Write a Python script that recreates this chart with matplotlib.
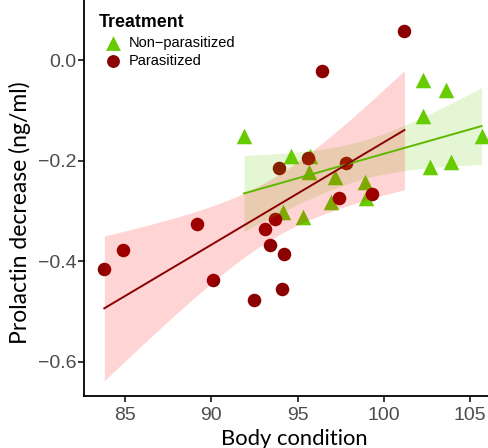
"""
Prolactin decrease vs body condition, by treatment, with linear fits and 95% CI.
"""

import matplotlib
matplotlib.use('Agg')
import matplotlib.pyplot as plt
import numpy as np

GREEN = '#66cc00'
GLINE = '#5fb800'
DRED = '#8b0000'

# Data -------------------------------------------------------------------------

para_x = [83.8, 84.9, 89.2, 90.1, 92.5, 93.1, 93.4, 93.7, 93.9, 94.2, 94.1,
          95.6, 96.4, 97.4, 97.8, 99.3, 101.2]
para_y = [-0.415, -0.377, -0.325, -0.437, -0.476, -0.336, -0.367, -0.315, -0.215,
          -0.386, -0.456, -0.194, -0.021, -0.274, -0.204, -0.266, 0.059]

nonp_x = [91.9, 94.6, 95.7, 95.65, 94.15, 95.3, 97.17, 96.94, 98.9, 98.96,
          102.25, 103.58, 102.28, 105.67, 102.67, 103.9]
nonp_y = [-0.151, -0.191, -0.191, -0.222, -0.302, -0.312, -0.232, -0.282, -0.242,
          -0.273, -0.040, -0.060, -0.111, -0.151, -0.212, -0.203]

xticks = [85, 90, 95, 100, 105]
yticks = [-0.6, -0.4, -0.2, 0.0]

# t quantiles (0.975) for n-2 degrees of freedom
t_para = 2.131
t_nonp = 2.145


def fit_ci(x, y, tq):
	x = np.asarray(x)
	y = np.asarray(y)
	n = len(x)
	b, a = np.polyfit(x, y, 1)
	xs = np.linspace(x.min(), x.max(), 80)
	ys = a + b * xs
	res = y - (a + b * x)
	s = np.sqrt(np.sum(res ** 2) / (n - 2))
	se = s * np.sqrt(1.0 / n + (xs - x.mean()) ** 2 / np.sum((x - x.mean()) ** 2))
	return xs, ys, ys - tq * se, ys + tq * se


# Plot -------------------------------------------------------------------------

fig = plt.figure(figsize=(4.89, 4.48), dpi=100)
ax = fig.add_axes([0.172, 0.116, 0.828, 0.884])

l1 = ax.scatter(nonp_x, nonp_y, marker='^', s=125, color=GREEN, linewidths=0, zorder=2)
l2 = ax.scatter(para_x, para_y, marker='o', s=95, color=DRED, linewidths=0, zorder=2)

xs, ys, lo, hi = fit_ci(nonp_x, nonp_y, t_nonp)
ax.fill_between(xs, lo, hi, color=GREEN, alpha=0.17, linewidth=0, zorder=3)
ax.plot(xs, ys, color=GLINE, lw=1.4, zorder=4)

xs, ys, lo, hi = fit_ci(para_x, para_y, t_para)
ax.fill_between(xs, lo, hi, color='red', alpha=0.17, linewidth=0, zorder=3)
ax.plot(xs, ys, color=DRED, lw=1.4, zorder=4)

ax.set_xlim(82.63, 106.1)
ax.set_ylim(-0.668, 0.12)
ax.set_xticks(xticks)
ax.set_xticklabels([str(v) for v in xticks])
ax.set_yticks(yticks)
ax.set_yticklabels(['\u22120.6', '\u22120.4', '\u22120.2', '0.0'])

for sp in ['top', 'right']:
	ax.spines[sp].set_visible(False)
for sp in ['left', 'bottom']:
	ax.spines[sp].set_linewidth(1.3)

ax.tick_params(axis='both', length=4, width=1.1, color='black', labelcolor='#4d4d4d',
               labelsize=14)
ax.tick_params(axis='x', pad=4)
ax.tick_params(axis='y', pad=1.5)
for lab in ax.get_xticklabels() + ax.get_yticklabels():
	lab.set_family('Liberation Sans')

ax.set_xlabel('Body condition', fontsize=15.8, family='Lato')
ax.set_ylabel('Prolactin decrease (ng/ml)', fontsize=16.5, family='Lato')
ax.xaxis.set_label_coords(0.52, -0.083)
ax.yaxis.set_label_coords(-0.131, 0.462)

leg = ax.legend([l1, l2], ['Non\u2212parasitized', 'Parasitized'], title='Treatment',
                loc='upper left', bbox_to_anchor=(0.01, 0.99), frameon=False,
                prop={'family': 'Liberation Sans', 'size': 10.5},
                handletextpad=0.1, labelspacing=0.3, borderaxespad=0.3,
                markerscale=0.95)
leg.get_title().set_fontweight('bold')
leg.get_title().set_family('Liberation Sans')
leg.get_title().set_fontsize(12.8)
leg._legend_box.align = 'left'

fig.savefig('out.png', dpi=100)
